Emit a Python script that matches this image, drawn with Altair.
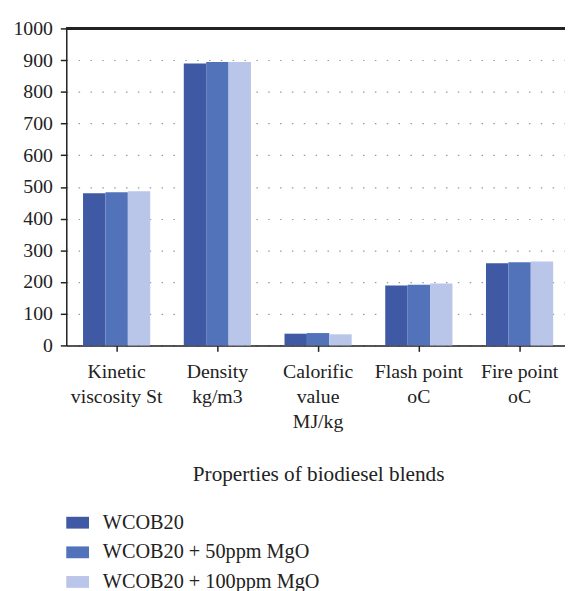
import altair as alt
import pandas as pd

categories = [
    "Kinetic\nviscosity St",
    "Density\nkg/m3",
    "Calorific\nvalue\nMJ/kg",
    "Flash point\noC",
    "Fire point\noC",
]
series = ["WCOB20", "WCOB20 + 50ppm MgO", "WCOB20 + 100ppm MgO"]
wcob20 = [480, 889, 37, 189, 259]
mgo50 = [483, 894, 39, 191, 262]
mgo100 = [486, 894, 35, 195, 265]
colors = ["#3f59a4", "#5273ba", "#bac5ea"]
y_ticks = [0, 100, 200, 300, 400, 500, 600, 700, 800, 900, 1000]

rows = []
for s, vals in zip(series, [wcob20, mgo50, mgo100]):
    for c, v in zip(categories, vals):
        rows.append({"category": c, "series": s, "value": v})
df = pd.DataFrame(rows)

FONT = "Liberation Serif"
W, H = 505, 321

bars = alt.Chart(df).mark_bar().encode(
    x=alt.X(
        "category:N",
        sort=categories,
        scale=alt.Scale(paddingInner=0.333, paddingOuter=0.1665, range=[0, 510]),
        axis=alt.Axis(
            title="Properties of biodiesel blends",
            labelAngle=0,
            labelExpr="split(datum.label, '\\n')",
            labelFont=FONT,
            labelFontSize=20,
            labelColor="#222",
            labelLineHeight=25.5,
            labelBaseline="top",
            labelPadding=10,
            labelAlign="center",
            tickSize=6,
            tickColor="#222",
            tickWidth=1.5,
            domainColor="#222",
            domainWidth=1.5,
            titleFont=FONT,
            titleFontSize=21.5,
            titleFontWeight="normal",
            titleColor="#222",
            titleBaseline="alphabetic",
            titleAlign="center",
            titleAnchor="start",
            titleX=255,
            titleY=137,
            grid=False,
        ),
    ),
    xOffset=alt.XOffset("series:N", sort=series, scale=alt.Scale(paddingInner=0, paddingOuter=0)),
    y=alt.Y(
        "value:Q",
        scale=alt.Scale(domain=[0, 1000], nice=False),
        axis=alt.Axis(
            title=None,
            values=y_ticks,
            format="d",
            labelFont=FONT,
            labelFontSize=20,
            labelColor="#222",
            labelPadding=8,
            tickSize=6,
            tickColor="#222",
            tickWidth=1.5,
            domainColor="#222",
            domainWidth=1.5,
            grid=True,
            gridColor="#999",
            gridDash=[1.5, 10.5],
            gridWidth=1.2,
        ),
    ),
    color=alt.Color(
        "series:N",
        sort=series,
        scale=alt.Scale(domain=series, range=colors),
        legend=alt.Legend(
            title=None,
            orient="none",
            legendX=0,
            legendY=489,
            symbolType="M-1,-0.52H1V0.52H-1Z",
            symbolSize=529,
            symbolStrokeWidth=0,
            labelFont=FONT,
            labelFontSize=20.5,
            labelColor="#222",
            labelOffset=14,
            labelLimit=0,
            rowPadding=8,
        ),
    ),
)

top_line = alt.Chart(df).mark_rule(color="#222", strokeWidth=1.5).encode(
    y=alt.value(0), x=alt.value(0), x2=alt.value(W)
)

chart = (
    alt.layer(bars, top_line)
    .properties(
        width=W,
        height=H,
        padding={"left": 59, "top": 17, "right": 0, "bottom": 245},
        autosize=alt.AutoSizeParams(type="none"),
    )
    .configure_view(stroke=None)
    .configure(background="white")
)

chart.save("out.html", embed_options={"renderer": "svg", "actions": False})
